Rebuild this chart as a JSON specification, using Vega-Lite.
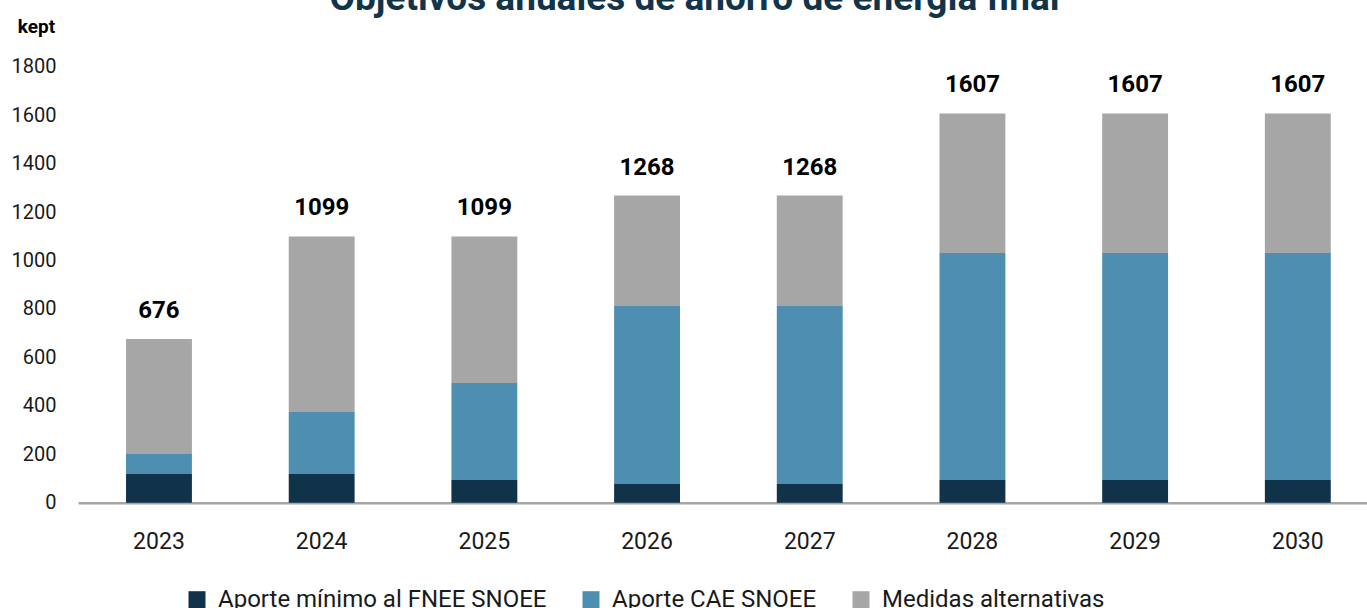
{
  "$schema": "https://vega.github.io/schema/vega-lite/v6.json",
  "autosize": {"type": "none"},
  "padding": {"left": 78, "top": 66.7, "right": 0, "bottom": 105.3},
  "width": 1289,
  "height": 436,
  "background": "white",
  "title": {
    "text": "Objetivos anuales de ahorro de energía final",
    "font": "Roboto",
    "fontSize": 37,
    "fontWeight": "bold",
    "color": "#12344b",
    "anchor": "middle",
    "baseline": "alphabetic",
    "dx": -28,
    "dy": 29,
    "offset": 0
  },
  "config": {
    "view": {"stroke": null},
    "font": "Roboto"
  },
  "datasets": {
    "segments": [
      {"year": "2023", "serie": "Aporte mínimo al FNEE SNOEE", "orden": 1, "value": 118},
      {"year": "2023", "serie": "Aporte CAE SNOEE", "orden": 2, "value": 83},
      {"year": "2023", "serie": "Medidas alternativas", "orden": 3, "value": 475},
      {"year": "2024", "serie": "Aporte mínimo al FNEE SNOEE", "orden": 1, "value": 118},
      {"year": "2024", "serie": "Aporte CAE SNOEE", "orden": 2, "value": 256},
      {"year": "2024", "serie": "Medidas alternativas", "orden": 3, "value": 725},
      {"year": "2025", "serie": "Aporte mínimo al FNEE SNOEE", "orden": 1, "value": 94},
      {"year": "2025", "serie": "Aporte CAE SNOEE", "orden": 2, "value": 400},
      {"year": "2025", "serie": "Medidas alternativas", "orden": 3, "value": 605},
      {"year": "2026", "serie": "Aporte mínimo al FNEE SNOEE", "orden": 1, "value": 77},
      {"year": "2026", "serie": "Aporte CAE SNOEE", "orden": 2, "value": 735},
      {"year": "2026", "serie": "Medidas alternativas", "orden": 3, "value": 456},
      {"year": "2027", "serie": "Aporte mínimo al FNEE SNOEE", "orden": 1, "value": 77},
      {"year": "2027", "serie": "Aporte CAE SNOEE", "orden": 2, "value": 735},
      {"year": "2027", "serie": "Medidas alternativas", "orden": 3, "value": 456},
      {"year": "2028", "serie": "Aporte mínimo al FNEE SNOEE", "orden": 1, "value": 94},
      {"year": "2028", "serie": "Aporte CAE SNOEE", "orden": 2, "value": 937},
      {"year": "2028", "serie": "Medidas alternativas", "orden": 3, "value": 576},
      {"year": "2029", "serie": "Aporte mínimo al FNEE SNOEE", "orden": 1, "value": 94},
      {"year": "2029", "serie": "Aporte CAE SNOEE", "orden": 2, "value": 937},
      {"year": "2029", "serie": "Medidas alternativas", "orden": 3, "value": 576},
      {"year": "2030", "serie": "Aporte mínimo al FNEE SNOEE", "orden": 1, "value": 94},
      {"year": "2030", "serie": "Aporte CAE SNOEE", "orden": 2, "value": 937},
      {"year": "2030", "serie": "Medidas alternativas", "orden": 3, "value": 576}
    ],
    "totals": [
      {"year": "2023", "total": 676},
      {"year": "2024", "total": 1099},
      {"year": "2025", "total": 1099},
      {"year": "2026", "total": 1268},
      {"year": "2027", "total": 1268},
      {"year": "2028", "total": 1607},
      {"year": "2029", "total": 1607},
      {"year": "2030", "total": 1607}
    ]
  },
  "encoding": {
    "x": {
      "field": "year",
      "type": "nominal",
      "sort": null,
      "scale": {"paddingInner": 0.595, "paddingOuter": 0.259, "align": 0.57, "round": false},
      "axis": {
        "title": null,
        "labelAngle": 0,
        "labelFont": "Roboto",
        "labelFontSize": 23,
        "labelColor": "#1a1a1a",
        "labelPadding": 28,
        "ticks": false,
        "domain": true,
        "domainColor": "#a6a6a6",
        "domainWidth": 2.5,
        "grid": false
      }
    }
  },
  "layer": [
    {
      "data": {"name": "segments"},
      "mark": {"type": "bar"},
      "encoding": {
        "y": {
          "field": "value",
          "type": "quantitative",
          "stack": "zero",
          "scale": {"domain": [0, 1800], "nice": false},
          "axis": {
            "title": "kept",
            "titleAngle": 0,
            "titleX": -42,
            "titleY": -40,
            "titleAlign": "center",
            "titleBaseline": "middle",
            "titleFont": "Roboto",
            "titleFontSize": 19,
            "titleFontWeight": "bold",
            "titleColor": "#000000",
            "values": [0, 200, 400, 600, 800, 1000, 1200, 1400, 1600, 1800],
            "format": "d",
            "labelFont": "Roboto",
            "labelFontSize": 20,
            "labelColor": "#1a1a1a",
            "labelPadding": 22,
            "ticks": false,
            "domain": false,
            "grid": false
          }
        },
        "color": {
          "field": "serie",
          "type": "nominal",
          "sort": ["Aporte mínimo al FNEE SNOEE", "Aporte CAE SNOEE", "Medidas alternativas"],
          "scale": {
            "domain": ["Aporte mínimo al FNEE SNOEE", "Aporte CAE SNOEE", "Medidas alternativas"],
            "range": ["#11334a", "#4e8fb1", "#a6a6a6"]
          },
          "legend": {
            "title": null,
            "orient": "none",
            "direction": "horizontal",
            "legendX": 107,
            "legendY": 521,
            "symbolType": "square",
            "symbolSize": 289,
            "symbolStrokeWidth": 0,
            "symbolOpacity": 1,
            "labelFont": "Roboto",
            "labelFontSize": 24,
            "labelColor": "#1a1a1a",
            "labelOffset": 9,
            "labelLimit": 0,
            "columnPadding": 32
          }
        },
        "order": {"field": "orden", "type": "quantitative", "sort": "ascending"}
      }
    },
    {
      "data": {"name": "totals"},
      "mark": {
        "type": "text",
        "font": "Roboto",
        "fontSize": 24,
        "fontWeight": "bold",
        "color": "#000000",
        "baseline": "middle",
        "dy": -28
      },
      "encoding": {
        "y": {"field": "total", "type": "quantitative"},
        "text": {"field": "total", "type": "quantitative"}
      }
    }
  ]
}
